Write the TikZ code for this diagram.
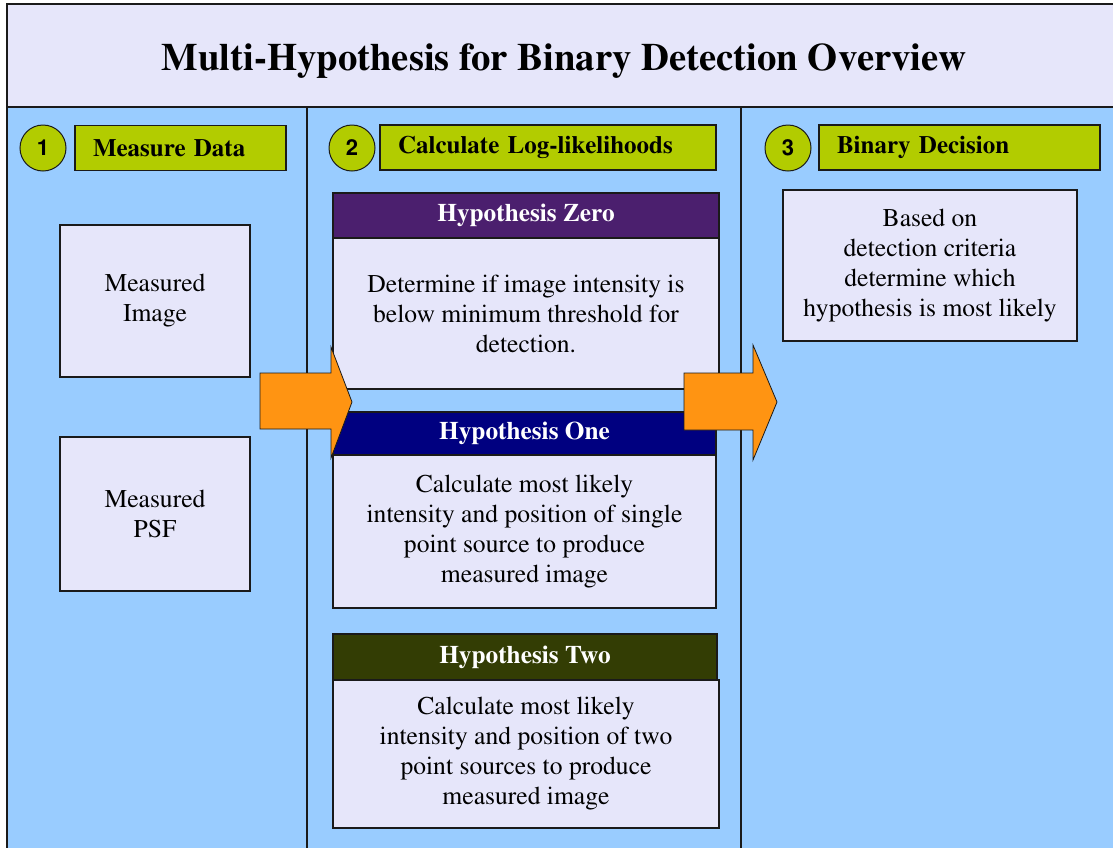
\documentclass[tikz,border=0pt]{standalone}
\usepackage[T1]{fontenc}
\renewcommand{\rmdefault}{ptm}
\renewcommand{\sfdefault}{phv}
\definecolor{colblue}{HTML}{99CCFF}
\definecolor{lav}{HTML}{E6E6FA}
\definecolor{lgreen}{HTML}{B2CC00}
\definecolor{hpurple}{HTML}{4B1F6E}
\definecolor{hnavy}{HTML}{000080}
\definecolor{holive}{HTML}{333D04}
\definecolor{orng}{HTML}{FF9412}
\definecolor{edge}{HTML}{1A1A1A}
\begin{document}
\begin{tikzpicture}[x=1pt,y=-1pt,
  every node/.style={inner sep=0pt, outer sep=0pt},
  bodybox/.style={draw=edge, line width=1.6pt, fill=lav, align=center,
    font=\fontsize{25.6}{30}\selectfont},
  labelbox/.style={draw=edge, line width=1.6pt, fill=lgreen, align=left,
    inner xsep=18pt, font=\fontsize{25}{30}\selectfont\bfseries, minimum height=45pt},
  numcircle/.style={circle, draw=edge, line width=1pt, fill=lgreen, minimum size=46pt,
    font=\fontsize{22}{24}\selectfont\sffamily\bfseries},
  headbox/.style={draw=edge, line width=1.6pt, text=white, align=center,
    font=\fontsize{25.3}{30}\selectfont\bfseries},
  blockarrow/.style={draw=edge, line width=0.8pt, fill=orng, line join=miter}
]
\useasboundingbox (0,0) rectangle (1113,847);
\clip (0,0) rectangle (1113,847);
% background panels
\fill[colblue] (7,107) rectangle (1130,870);
\fill[lav] (7,4) rectangle (1130,107);
\draw[edge, line width=2pt] (1130,4) -- (7,4) -- (7,870);
\draw[edge, line width=2pt] (7,107) -- (1130,107);
\draw[edge, line width=1.6pt] (307,107) -- (307,870);
\draw[edge, line width=1.6pt] (741,107) -- (741,870);

% title
\node[anchor=base] (title) at (564,70) {\fontsize{38.7}{44}\selectfont\bfseries Multi-Hypothesis for Binary Detection Overview};

% column 1
\node[numcircle] (c1) at (43,148) {1};
\node[labelbox, text width=175pt, minimum width=211pt] (l1) at (180.5,148) {Measure Data};
\node[bodybox, minimum width=190pt, minimum height=152pt] (mimg) at (155,301) {Measured\\Image};
\node[bodybox, minimum width=190pt, minimum height=154pt] (mpsf) at (155,514) {Measured\\PSF};

% column 2
\node[numcircle] (c2) at (352,148) {2};
\node[labelbox, text width=300pt, minimum width=336pt] (l2) at (548,147.5) {Calculate Log-likelihoods};
\node[headbox, fill=hpurple, minimum width=386pt, minimum height=45pt] (h0h) at (526,215.5) {Hypothesis Zero};
\node[bodybox, minimum width=386pt, minimum height=151pt] (h0b) at (526,313.5) {Determine if image intensity is\\below minimum threshold for\\detection.};
\node[headbox, fill=hnavy, minimum width=383pt, minimum height=43pt] (h1h) at (524.5,433.5) {Hypothesis One};
\node[bodybox, minimum width=383pt, minimum height=153pt] (h1b) at (524.5,531.5) {Calculate most likely\\intensity and position of single\\point source to produce\\measured image};
\node[headbox, fill=holive, minimum width=384pt, minimum height=46pt] (h2h) at (525,657) {Hypothesis Two};
\node[bodybox, minimum width=386pt, minimum height=148pt] (h2b) at (526,754) {Calculate most likely\\intensity and position of two\\point sources to produce\\measured image};

% column 3
\node[numcircle] (c3) at (788,148) {3};
\node[labelbox, text width=245pt, minimum width=281pt] (l3) at (959.5,147.5) {Binary Decision};
\node[bodybox, minimum width=294pt, minimum height=151pt] (dec) at (930,265.5) {Based on\\detection criteria\\determine which\\hypothesis is most likely};

% block arrows
\draw[blockarrow] (260,373) -- (331,373) -- (331,347) -- (352,402) -- (331,458) -- (331,429) -- (260,429) -- cycle;
\draw[blockarrow] (684,373) -- (753,373) -- (753,345) -- (777,402) -- (753,460) -- (753,430) -- (684,430) -- cycle;
\end{tikzpicture}
\end{document}
